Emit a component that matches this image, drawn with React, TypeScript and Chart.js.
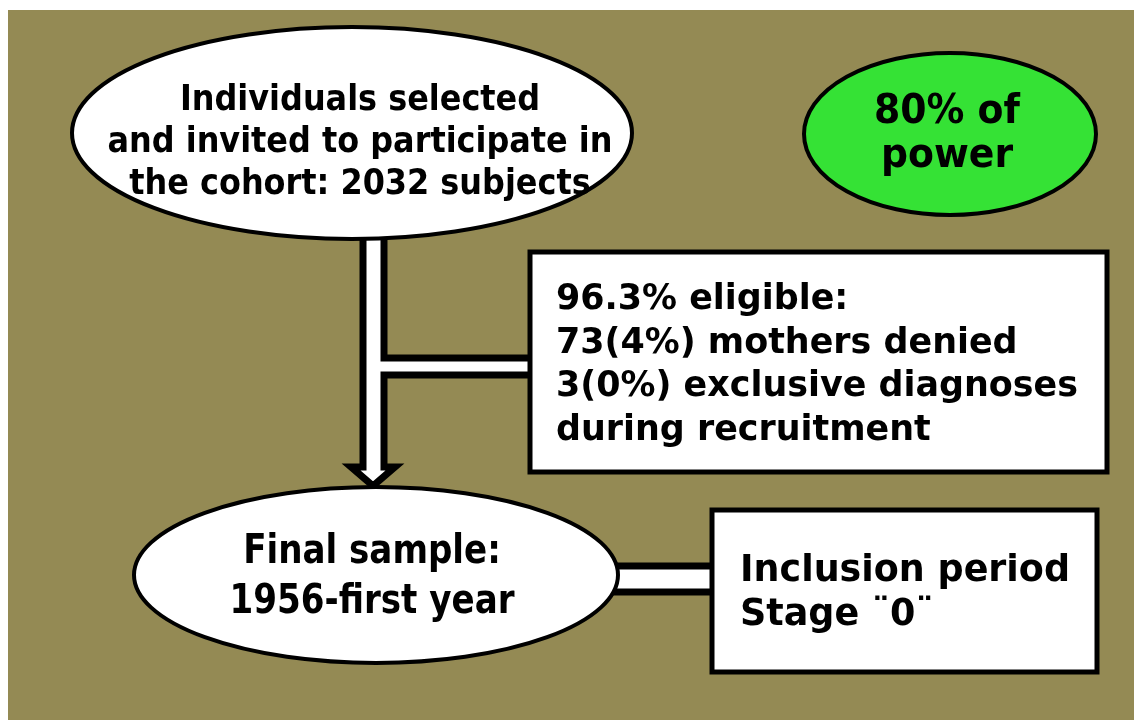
import React, { useEffect, useRef } from "react";
import { Chart, registerables } from "chart.js";

Chart.register(...registerables);

// ---- data ----
const invitedSubjects = 2032;
const finalSample = 1956;
const eligiblePct = 96.3;
const deniedMothers = 73;
const deniedPct = 4;
const exclusiveDiagnoses = 3;
const exclusivePct = 0;
const powerPct = 80;

const topLines = [
  "Individuals selected",
  "and invited to participate in",
  `the cohort: ${invitedSubjects} subjects`,
];
const powerLines = [`${powerPct}% of`, "power"];
const eligibleLines = [
  `${eligiblePct}% eligible:`,
  `${deniedMothers}(${deniedPct}%) mothers denied`,
  `${exclusiveDiagnoses}(${exclusivePct}%) exclusive diagnoses`,
  "during recruitment",
];
const finalLines = ["Final sample:", `${finalSample}-first year`];
const inclusionLines = ["Inclusion period", "Stage ¨0¨"];

const nodeNames = ["invited", "power", "eligible", "final", "inclusion"];

// ---- layout (value space equals the 1134x720 frame) ----
const W = 1134;
const H = 720;
const BG = "#948a54";
const GREEN = "#35e235";
const FONT = "'DejaVu Sans', sans-serif";

const nodeCenters = [
  { x: 352, y: 133 },
  { x: 950, y: 134 },
  { x: 818.5, y: 362 },
  { x: 376, y: 575 },
  { x: 904.5, y: 591 },
];

function drawLines(ctx: CanvasRenderingContext2D, lines: string[], o: any) {
  ctx.save();
  ctx.font = o.font;
  ctx.fillStyle = "#000";
  ctx.textBaseline = o.baseline || "middle";
  let widest = 0;
  lines.forEach((l) => (widest = Math.max(widest, ctx.measureText(l).width)));
  const sx = o.targetW ? o.targetW / widest : 1;
  ctx.translate(o.x, o.y);
  ctx.scale(sx, 1);
  ctx.textAlign = o.align;
  lines.forEach((l, i) => ctx.fillText(l, 0, i * o.lh));
  ctx.restore();
}

const flowPlugin = {
  id: "flow",
  beforeDatasetsDraw(chart: any) {
    const ctx: CanvasRenderingContext2D = chart.ctx;
    const xs = chart.scales.x;
    const ys = chart.scales.y;
    const px = (v: number) => xs.getPixelForValue(v);
    const py = (v: number) => ys.getPixelForValue(v);
    const dx = (v: number) => Math.abs(xs.getPixelForValue(v) - xs.getPixelForValue(0));
    const dy = (v: number) => Math.abs(ys.getPixelForValue(v) - ys.getPixelForValue(0));
    const pts = chart.getDatasetMeta(0).data;
    const c = (i: number) => ({ x: pts[i].x, y: pts[i].y });

    ctx.save();
    ctx.fillStyle = "#fff";
    ctx.fillRect(0, 0, chart.width, chart.height);
    ctx.fillStyle = BG;
    ctx.fillRect(px(8), py(10), px(W) - px(8), py(H) - py(10));

    ctx.lineJoin = "miter";
    ctx.strokeStyle = "#000";

    // bottom connector band (final sample -> inclusion)
    ctx.fillStyle = "#fff";
    ctx.fillRect(px(560), py(569), dx(160), dy(20));
    ctx.lineWidth = 7;
    ctx.beginPath();
    ctx.moveTo(px(560), py(566));
    ctx.lineTo(px(716), py(566));
    ctx.moveTo(px(560), py(592));
    ctx.lineTo(px(716), py(592));
    ctx.stroke();

    // arrow with branch to the eligible box
    ctx.beginPath();
    ctx.moveTo(px(363), py(200));
    ctx.lineTo(px(363), py(467));
    ctx.lineTo(px(351), py(467));
    ctx.lineTo(px(373), py(486));
    ctx.lineTo(px(395), py(467));
    ctx.lineTo(px(384), py(467));
    ctx.lineTo(px(384), py(375));
    ctx.lineTo(px(540), py(375));
    ctx.lineTo(px(540), py(358));
    ctx.lineTo(px(384), py(358));
    ctx.lineTo(px(384), py(200));
    ctx.closePath();
    ctx.fillStyle = "#fff";
    ctx.fill();
    ctx.lineWidth = 7;
    ctx.stroke();

    // ellipses
    const ellipse = (i: number, rx: number, ry: number, fill: string) => {
      const p = c(i);
      ctx.beginPath();
      ctx.ellipse(p.x, p.y, dx(rx), dy(ry), 0, 0, Math.PI * 2);
      ctx.fillStyle = fill;
      ctx.fill();
      ctx.lineWidth = 4;
      ctx.stroke();
    };
    ellipse(0, 280, 106, "#fff");
    ellipse(1, 146, 81, GREEN);
    ellipse(3, 242, 88, "#fff");

    // boxes
    const box = (i: number, w: number, h: number) => {
      const p = c(i);
      ctx.fillStyle = "#fff";
      ctx.fillRect(p.x - dx(w) / 2, p.y - dy(h) / 2, dx(w), dy(h));
      ctx.lineWidth = 5;
      ctx.strokeRect(p.x - dx(w) / 2, p.y - dy(h) / 2, dx(w), dy(h));
    };
    box(2, 577, 220);
    box(4, 385, 162);

    // texts
    drawLines(ctx, topLines, {
      x: px(360), y: py(110), lh: dy(42), font: `bold 36px ${FONT}`, align: "center",
      targetW: dx(505), baseline: "alphabetic",
    });
    drawLines(ctx, powerLines, {
      x: px(947), y: py(123), lh: dy(44), font: `bold 40px ${FONT}`, align: "center",
      targetW: dx(146), baseline: "alphabetic",
    });
    drawLines(ctx, eligibleLines, {
      x: px(556), y: py(300), lh: dy(43.5), font: `bold 35px ${FONT}`, align: "left", targetW: dx(522),
    });
    drawLines(ctx, finalLines, {
      x: px(372), y: py(553), lh: dy(50), font: `bold 40px ${FONT}`, align: "center", targetW: dx(285),
    });
    drawLines(ctx, inclusionLines, {
      x: px(740), y: py(571), lh: dy(44), font: `bold 38px ${FONT}`, align: "left", targetW: dx(330),
    });
    ctx.restore();
  },
};

export default function App() {
  const ref = useRef<HTMLCanvasElement | null>(null);
  useEffect(() => {
    if (!ref.current) return;
    const chart = new Chart(ref.current, {
      type: "scatter",
      data: {
        labels: nodeNames,
        datasets: [
          {
            label: "nodes",
            data: nodeCenters,
            pointRadius: 0,
            pointHoverRadius: 0,
          },
        ],
      },
      options: {
        animation: false,
        responsive: false,
        maintainAspectRatio: false,
        events: [],
        layout: { padding: 0 },
        scales: {
          x: { type: "linear", min: 0, max: W, display: false },
          y: { type: "linear", min: 0, max: H, reverse: true, display: false },
        },
        plugins: { legend: { display: false }, tooltip: { enabled: false } },
      },
      plugins: [flowPlugin],
    });
    return () => chart.destroy();
  }, []);
  return (
    <div style={{ position: "fixed", left: 0, top: 0, width: W, height: H }}>
      <canvas ref={ref} width={W} height={H} style={{ display: "block" }} />
    </div>
  );
}
